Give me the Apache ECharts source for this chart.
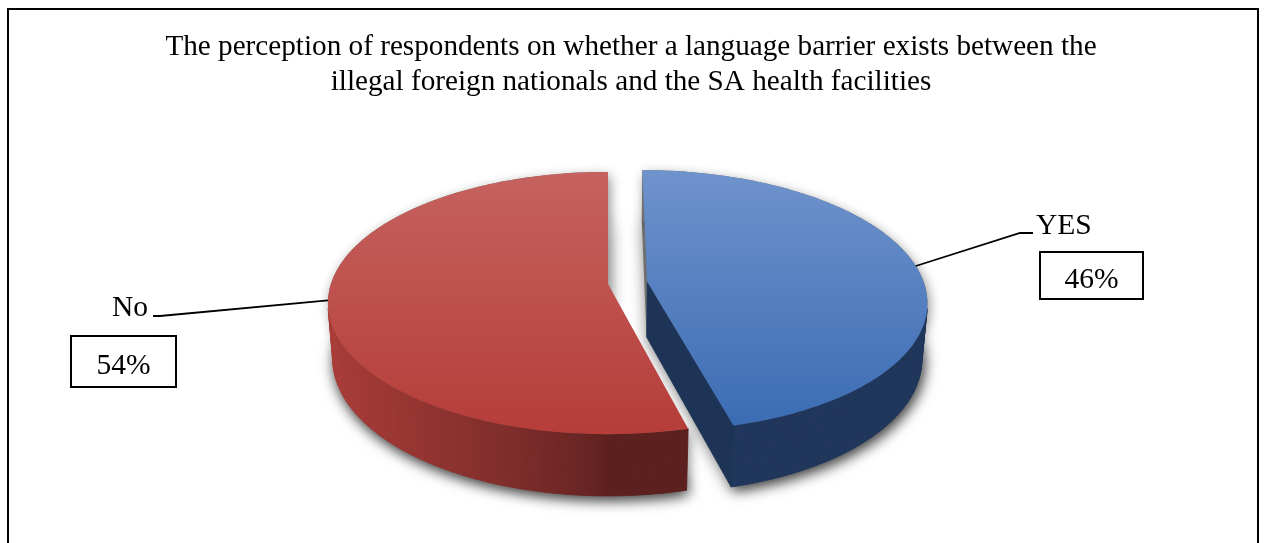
<!DOCTYPE html>
<html>
<head>
<meta charset="utf-8">
<script src="https://cdn.jsdelivr.net/npm/echarts@6/dist/echarts.min.js"></script>
<style>
  html, body { margin: 0; padding: 0; background: #fff; }
  #chart { width: 1264px; height: 543px; }
</style>
</head>
<body>
<div id="chart"></div>
<script>
// ---- data ----
const categories = ['YES', 'No'];
const values = [46, 54];
const exploded = [true, false];
const titleLines = [
  'The perception of respondents on whether a language barrier exists between the',
  'illegal foreign nationals and the SA health facilities'
];

// ---- look ----
const palettes = [
  { top: ['#6F93CC', '#3B6CB4'], side: '#4271BD', face: '#1D3456' },
  { top: ['#C5625F', '#B63D39'], side: '#BF4440', face: '#5A1A18' }
];
// label placement: leader elbow/end, name text anchor, value box
const labelLayout = [
  { leader: [[1020, 233], [1033, 233]], name: { x: 1036, y: 226, align: 'left' },
    box: { x: 1040, y: 252, w: 103, h: 47 } },
  { leader: [[160, 316], [153, 316]], name: { x: 148, y: 308, align: 'right' },
    box: { x: 71, y: 336, w: 105, h: 51 } }
];
const FONT = '"Liberation Serif", "Times New Roman", serif';
const LABEL_SIZE = 29.5;

// perspective camera looking down at the pie disk (unit radius)
const view = {
  cx: 608, cy: 284,
  tilt: 27.6 * Math.PI / 180,
  dist: 6.11,
  focal: 1693,
  thickness: 0.23,
  explode: 0.143
};

const total = values.reduce((a, b) => a + b, 0);
const TAU = Math.PI * 2;
const slices = [];
(function () {
  let acc = 0;
  values.forEach(v => {
    const a0 = acc / total * TAU;
    acc += v;
    slices.push({ a0, a1: acc / total * TAU });
  });
})();

const camY = view.dist * Math.sin(view.tilt);
const camZ = view.dist * Math.cos(view.tilt);

// world: x right, y up, z toward the viewer; returns screen [x, y]
function project(x, y, z) {
  const s = Math.sin(view.tilt), c = Math.cos(view.tilt);
  const ry = y - camY, rz = z - camZ;
  const depth = -(ry * s + rz * c);
  const sy = ry * c - rz * s;
  return [view.cx + view.focal * x / depth, view.cy - view.focal * sy / depth];
}

function shade(hex, f) {
  const n = parseInt(hex.slice(1), 16);
  const r = Math.round(Math.min(255, ((n >> 16) & 255) * f));
  const g = Math.round(Math.min(255, ((n >> 8) & 255) * f));
  const b = Math.round(Math.min(255, (n & 255) * f));
  return 'rgb(' + r + ',' + g + ',' + b + ')';
}

function renderSlice(params, api) {
  const i = params.dataIndex;
  const { a0, a1 } = slices[i];
  const mid = (a0 + a1) / 2;
  const e = exploded[i] ? view.explode : 0;
  const ox = e * Math.sin(mid), oz = -e * Math.cos(mid);
  const h = view.thickness;
  const P = (th, y, r) => {
    r = r === undefined ? 1 : r;
    return project(ox + r * Math.sin(th), y, oz - r * Math.cos(th));
  };
  const pal = palettes[i];
  const n = Math.max(12, Math.ceil((a1 - a0) / (Math.PI / 180)));
  const topArc = [], botArc = [], ths = [];
  for (let k = 0; k <= n; k++) {
    const th = a0 + (a1 - a0) * k / n;
    ths.push(th);
    topArc.push(P(th, 0));
    botArc.push(P(th, -h));
  }
  const cTop = P(0, 0, 0), cBot = P(0, -h, 0);
  const children = [];

  // soft drop shadow under the whole slice body
  const casterFill = '#707070';
  children.push({
    type: 'polygon', z2: 0, silent: true,
    shape: { points: [cBot].concat(botArc) },
    style: { fill: casterFill, shadowBlur: 16, shadowColor: 'rgba(0,0,0,0.6)',
             shadowOffsetX: 2, shadowOffsetY: 3 }
  });
  children.push({
    type: 'polygon', z2: 0, silent: true,
    shape: { points: topArc.concat(botArc.slice().reverse()) },
    style: { fill: casterFill, shadowBlur: 12, shadowColor: 'rgba(0,0,0,0.45)',
             shadowOffsetX: 2, shadowOffsetY: 4 }
  });

  // outer wall, strip by strip with side lighting (front-facing strips only)
  for (let k = 0; k < n; k++) {
    const tm = (ths[k] + ths[k + 1]) / 2;
    const nx = Math.sin(tm), nz = -Math.cos(tm);
    const px = ox + nx, pz = oz + nz;
    if (nx * (0 - px) + nz * (camZ - pz) <= 0) continue;
    const lit = Math.pow(Math.max(0, -nx), 0.7);
    const f = 0.48 + 0.42 * lit;
    const col = shade(pal.side, f);
    children.push({
      type: 'polygon', silent: true,
      z2: 10 + (oz + nz + 2) * 5,
      shape: { points: [topArc[k], topArc[k + 1], botArc[k + 1], botArc[k]] },
      style: { fill: col, stroke: col, lineWidth: 0.8 }
    });
  }

  // radial cut faces that turn clearly toward the camera
  [[a0, -1], [a1, 1]].forEach(([th, sgn]) => {
    const nx = sgn * Math.cos(th), nz = sgn * Math.sin(th);
    const px = ox + 0.5 * Math.sin(th), pz = oz - 0.5 * Math.cos(th);
    if (nx * (0 - px) + nz * (camZ - pz) > 0.5) {
      children.push({
        type: 'polygon', silent: true, z2: 40,
        shape: { points: [cTop, P(th, 0), P(th, -h), cBot] },
        style: { fill: pal.face, stroke: pal.face, lineWidth: 0.5 }
      });
    }
  });

  // top face
  children.push({
    type: 'polygon', silent: true, z2: 50,
    shape: { points: [cTop].concat(topArc) },
    style: {
      fill: new echarts.graphic.LinearGradient(0, 0, 0, 1, [
        { offset: 0, color: pal.top[0] }, { offset: 1, color: pal.top[1] }
      ])
    }
  });

  // label: leader line, category name and boxed percentage
  const lay = labelLayout[i];
  const anchor = P(mid, 0);
  children.push({
    type: 'polyline', silent: true, z2: 60,
    shape: { points: [anchor].concat(lay.leader) },
    style: { stroke: '#000', lineWidth: 1.8, fill: null }
  });
  children.push({
    type: 'text', silent: true, z2: 60,
    style: { text: categories[i], x: lay.name.x, y: lay.name.y, fill: '#000',
             font: LABEL_SIZE + 'px ' + FONT, align: lay.name.align, verticalAlign: 'middle' }
  });
  children.push({
    type: 'rect', silent: true, z2: 60,
    shape: { x: lay.box.x, y: lay.box.y, width: lay.box.w, height: lay.box.h },
    style: { fill: '#fff', stroke: '#000', lineWidth: 2 }
  });
  children.push({
    type: 'text', silent: true, z2: 61,
    style: { text: Math.round(api.value(0) / total * 100) + '%',
             x: lay.box.x + lay.box.w / 2, y: lay.box.y + lay.box.h / 2 + 5, fill: '#000',
             font: LABEL_SIZE + 'px ' + FONT, align: 'center', verticalAlign: 'middle' }
  });

  return { type: 'group', children };
}

const chart = echarts.init(document.getElementById('chart'), null, { renderer: 'canvas' });
chart.setOption({
  backgroundColor: '#fff',
  animation: false,
  graphic: [
    { type: 'rect', silent: true, z: 0,
      shape: { x: 8, y: 9, width: 1250, height: 560 },
      style: { fill: 'none', stroke: '#000', lineWidth: 2 } },
    { type: 'text', silent: true, z: 10,
      style: { text: titleLines.join('\n'), x: 631, y: 30, fill: '#000',
               font: '29.2px ' + FONT, align: 'center', verticalAlign: 'top', lineHeight: 35 } }
  ],
  series: [{
    type: 'custom',
    coordinateSystem: 'none',
    silent: true,
    renderItem: renderSlice,
    data: values.map((v, i) => ({ name: categories[i], value: v }))
  }]
});
</script>
</body>
</html>
